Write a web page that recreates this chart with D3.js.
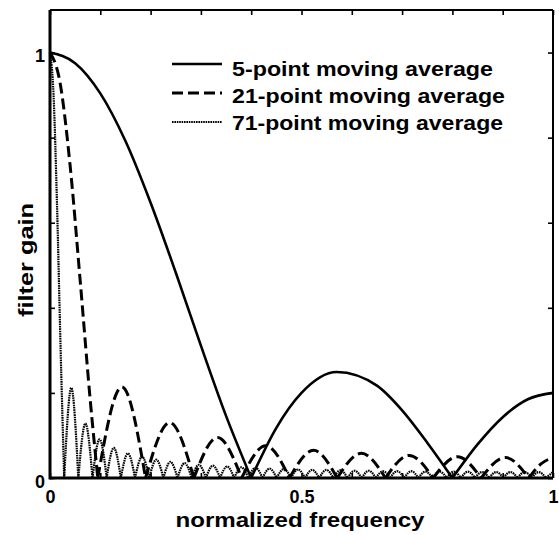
<!DOCTYPE html>
<html>
<head>
<meta charset="utf-8">
<script src="https://cdn.jsdelivr.net/npm/d3@7"></script>
<style>
  body { margin: 0; background: #fff; }
  text { font-family: "Liberation Sans", Arial, Helvetica, sans-serif; font-weight: bold; fill: #000; }
</style>
</head>
<body>
<svg id="chart" width="559" height="535"></svg>
<script>
// --- data ---
const xTicks = [0, 0.1, 0.2, 0.3, 0.4, 0.5, 0.6, 0.7, 0.8, 0.9, 1];
const xTickLabels = {0: '0', 0.5: '0.5', 1: '1'};
const yTicks = [0, 0.2, 0.4, 0.6, 0.8, 1];
const yTickLabels = {0: '0', 1: '1'};

// [normalized frequency, gain]
const gain5 = [
  [0, 1], [0.05, 0.975], [0.1, 0.904], [0.15, 0.792], [0.2, 0.647], [0.25, 0.483],
  [0.3, 0.311], [0.35, 0.146], [0.4, 0], [0.45, 0.118], [0.5, 0.2], [0.57, 0.249],
  [0.65, 0.217], [0.7, 0.159], [0.75, 0.083], [0.8, 0], [0.85, 0.079],
  [0.9, 0.143], [0.95, 0.185], [1, 0.2]
];
const gain21 = [
  [0, 1], [0.02, 0.929], [0.04, 0.734], [0.06, 0.464], [0.08, 0.183], [0.095, 0],
  [0.143, 0.214], [0.190, 0], [0.238, 0.130], [0.286, 0], [0.333, 0.095], [0.381, 0],
  [0.429, 0.076], [0.476, 0], [0.524, 0.065], [0.571, 0], [0.619, 0.058], [0.667, 0],
  [0.714, 0.053], [0.762, 0], [0.810, 0.050], [0.857, 0], [0.905, 0.048], [0.952, 0],
  [0.976, 0.033], [1, 0.048]
];
const gain71 = [
  [0, 1], [0.007, 0.902], [0.014, 0.640], [0.021, 0.307], [0.0282, 0],
  [0.0423, 0.212], [0.0563, 0], [0.0704, 0.128], [0.0845, 0], [0.0986, 0.091], [0.1127, 0],
  [0.1268, 0.071], [0.1408, 0], [0.1549, 0.058], [0.1690, 0], [0.1831, 0.050], [0.1972, 0],
  [0.2113, 0.043], [0.2254, 0], [0.2394, 0.038], [0.2535, 0], [0.2676, 0.035], [0.2817, 0],
  [0.2958, 0.031], [0.3099, 0], [0.3239, 0.029], [0.3380, 0], [0.3521, 0.027], [0.3662, 0],
  [0.3803, 0.025], [0.3944, 0], [0.4085, 0.024], [0.4225, 0], [0.4366, 0.022], [0.4507, 0],
  [0.4648, 0.021], [0.4789, 0], [0.4930, 0.020], [0.5070, 0], [0.5211, 0.019], [0.5352, 0],
  [0.5493, 0.019], [0.5634, 0], [0.5775, 0.018], [0.5915, 0], [0.6056, 0.017], [0.6197, 0],
  [0.6338, 0.017], [0.6479, 0], [0.6620, 0.016], [0.6761, 0], [0.6901, 0.016], [0.7042, 0],
  [0.7183, 0.016], [0.7324, 0], [0.7465, 0.015], [0.7606, 0], [0.7746, 0.015], [0.7887, 0],
  [0.8028, 0.015], [0.8169, 0], [0.8310, 0.015], [0.8451, 0], [0.8592, 0.014], [0.8732, 0],
  [0.8873, 0.014], [0.9014, 0], [0.9155, 0.014], [0.9296, 0], [0.9437, 0.014], [0.9577, 0],
  [0.9718, 0.014], [0.9859, 0], [1, 0.014]
];
const seriesNames = ['5-point moving average', '21-point moving average', '71-point moving average'];

// --- layout ---
const svg = d3.select('#chart');
const x = d3.scaleLinear().domain([0, 1]).range([50, 553]);
const y = d3.scaleLinear().domain([0, 1.1]).range([478, 10]);

const styles = [
  {width: 2.6, dash: null, textLen: 261},
  {width: 3, dash: '11,5', textLen: 273},
  {width: 2.2, dash: '1.6,0.8', textLen: 271}
];

// split a series at its nulls so each lobe gets its own smooth arch
function lobes(pts) {
  const out = [];
  let cur = [pts[0]];
  for (let i = 1; i < pts.length; i++) {
    cur.push(pts[i]);
    if (pts[i][1] === 0 && i < pts.length - 1) { out.push(cur); cur = [pts[i]]; }
  }
  out.push(cur);
  return out;
}

const line = d3.line().x(d => x(d[0])).y(d => y(d[1])).curve(d3.curveMonotoneX);

[gain71, gain21, gain5].forEach((s, i) => {
  const st = styles[2 - i];
  svg.append('g').selectAll('path')
    .data(lobes(s))
    .enter().append('path')
    .attr('d', line)
    .attr('fill', 'none')
    .attr('stroke', '#000')
    .attr('stroke-width', st.width)
    .attr('stroke-dasharray', st.dash);
});

// axes with inward ticks on all four sides
const xb = svg.append('g').attr('transform', `translate(0,${y(0)})`)
  .call(d3.axisBottom(x).tickValues(xTicks).tickSizeInner(-5).tickSizeOuter(0).tickPadding(12)
    .tickFormat(d => xTickLabels[d] || ''));
const xt = svg.append('g').attr('transform', `translate(0,${y(1.1)})`)
  .call(d3.axisTop(x).tickValues(xTicks).tickSizeInner(-5).tickSizeOuter(0).tickFormat(''));
const yl = svg.append('g').attr('transform', `translate(${x(0)},0)`)
  .call(d3.axisLeft(y).tickValues(yTicks).tickSizeInner(-5).tickSizeOuter(0).tickPadding(5)
    .tickFormat(d => yTickLabels[d] || ''));
const yr = svg.append('g').attr('transform', `translate(${x(1)},0)`)
  .call(d3.axisRight(y).tickValues(yTicks).tickSizeInner(-5).tickSizeOuter(0).tickFormat(''));

[xb, xt, yl, yr].forEach(g => {
  g.select('.domain').remove();
  g.selectAll('line').attr('stroke', '#000').attr('stroke-width', 1.6);
  g.selectAll('text').attr('font-size', 18).attr('font-family', null);
});
yl.selectAll('text').attr('dy', '0.5em');

// frame
svg.append('line').attr('x1', x(0)).attr('x2', x(1)).attr('y1', y(0)).attr('y2', y(0)).attr('stroke', '#000').attr('stroke-width', 3);
svg.append('line').attr('x1', x(0)).attr('x2', x(0)).attr('y1', y(0) + 1.5).attr('y2', y(1.1)).attr('stroke', '#000').attr('stroke-width', 3);
svg.append('line').attr('x1', x(0)).attr('x2', x(1)).attr('y1', y(1.1)).attr('y2', y(1.1)).attr('stroke', '#000').attr('stroke-width', 2);
svg.append('line').attr('x1', x(1)).attr('x2', x(1)).attr('y1', y(0)).attr('y2', y(1.1)).attr('stroke', '#000').attr('stroke-width', 2);

// axis titles
svg.append('text').attr('x', 300).attr('y', 527).attr('text-anchor', 'middle')
  .attr('font-size', 21).attr('textLength', 249).attr('lengthAdjust', 'spacingAndGlyphs')
  .text('normalized frequency');
svg.append('text').attr('transform', 'translate(33,260) rotate(-90)').attr('text-anchor', 'middle')
  .attr('font-size', 21).attr('textLength', 114).attr('lengthAdjust', 'spacingAndGlyphs')
  .text('filter gain');

// legend
const legend = svg.append('g').attr('transform', 'translate(172,64)');
seriesNames.forEach((name, i) => {
  legend.append('line').attr('x1', 0).attr('x2', 50).attr('y1', i * 29).attr('y2', i * 29)
    .attr('stroke', '#000').attr('stroke-width', styles[i].width)
    .attr('stroke-dasharray', styles[i].dash);
  legend.append('text').attr('x', 60).attr('y', i * 27 + 12).attr('font-size', 20)
    .attr('textLength', styles[i].textLen).attr('lengthAdjust', 'spacingAndGlyphs')
    .text(name);
});
</script>
</body>
</html>
